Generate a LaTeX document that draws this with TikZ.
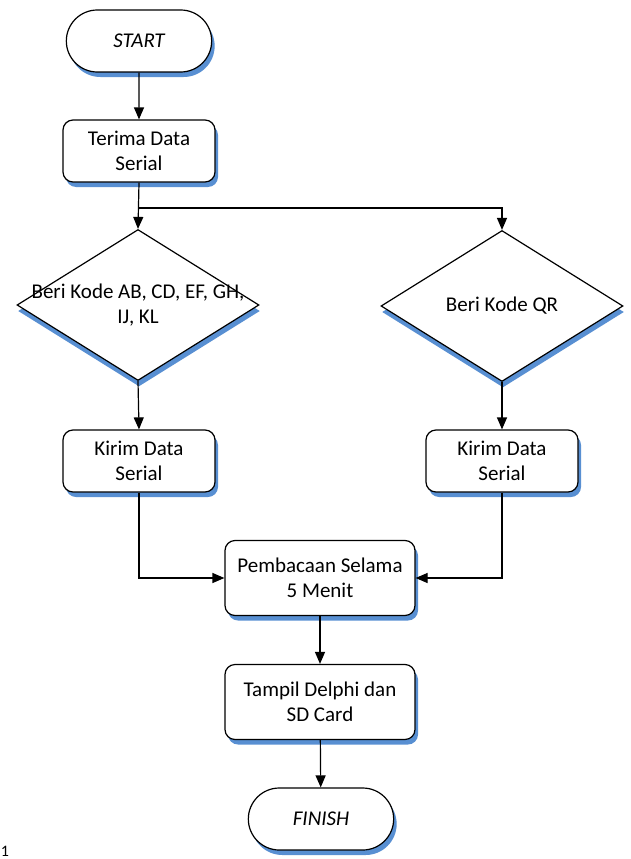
\documentclass[tikz,border=0pt]{standalone}
\usepackage{fontspec}
\setmainfont{Carlito}
\usetikzlibrary{shapes.geometric, shapes.misc, shadows}
\usetikzlibrary{arrows.meta, positioning}
\definecolor{shadowblue}{RGB}{88,143,210}

\begin{document}
\begin{tikzpicture}[x=1pt, y=1pt,
        font=\fontsize{21}{25}\selectfont,
        terminal/.style={rounded rectangle, draw, line width=1.2pt, fill=white, minimum width=152pt, minimum height=62pt, drop shadow={shadow xshift=3pt, shadow yshift=-5pt, fill=shadowblue, opacity=1}},
        process/.style={rectangle, rounded corners=10pt, draw, line width=1.2pt, fill=white, align=center, minimum width=152pt, minimum height=62pt, drop shadow={shadow xshift=3pt, shadow yshift=-5pt, fill=shadowblue, opacity=1}},
        decision/.style={diamond, draw, line width=1.2pt, fill=white, inner sep=0pt, minimum width=242pt, minimum height=151pt, drop shadow={shadow xshift=1pt, shadow yshift=-6pt, fill=shadowblue, opacity=1}},
        arrow/.style={line width=1.2pt, -{Triangle[width=10pt, length=12pt]}}
    ]
        \useasboundingbox (0,0) rectangle (630,-859);

        % Start
        \node[terminal] (start) at (139, -41) {\itshape START};
        \node[process] (terima) at (139, -151) {Terima Data\\Serial};

        % Decisions
        \node[decision] (kodeA) at (138, -305) {};
        \node[align=center] (kodeAtext) at (138, -305) {Beri Kode AB, CD, EF, GH,\\IJ, KL};
        \node[decision] (kodeB) at (502, -306) {};
        \node (kodeBtext) at (502, -306) {Beri Kode QR};

        % Send
        \node[process] (kirimA) at (139, -461) {Kirim Data\\Serial};
        \node[process] (kirimB) at (502, -461) {Kirim Data\\Serial};

        % Read and show
        \node[process, minimum width=190pt, minimum height=75pt] (baca) at (320, -578) {Pembacaan Selama\\5 Menit};
        \node[process, minimum width=190pt, minimum height=75pt] (tampil) at (320, -702) {Tampil Delphi dan\\SD Card};
        \node[terminal] (finish) at (321, -819) {\itshape FINISH};

        \node[font=\fontsize{16}{18}\selectfont] (page) at (5, -851) {1};

        % Connectors
        \coordinate (split) at (139, -208);
        \draw[arrow] (start) -- (terima);
        \draw[arrow] (terima.south) -- (kodeA.north);
        \draw[arrow] (split) -| (kodeB.north);
        \draw[arrow] (kodeA.south) -- (kirimA.north);
        \draw[arrow] (kodeB.south) -- (kirimB.north);
        \draw[arrow] (kirimA.south) |- (baca.west);
        \draw[arrow] (kirimB.south) |- (baca.east);
        \draw[arrow] (baca) -- (tampil);
        \draw[arrow] (tampil) -- (finish);
    \end{tikzpicture}
\end{document}
